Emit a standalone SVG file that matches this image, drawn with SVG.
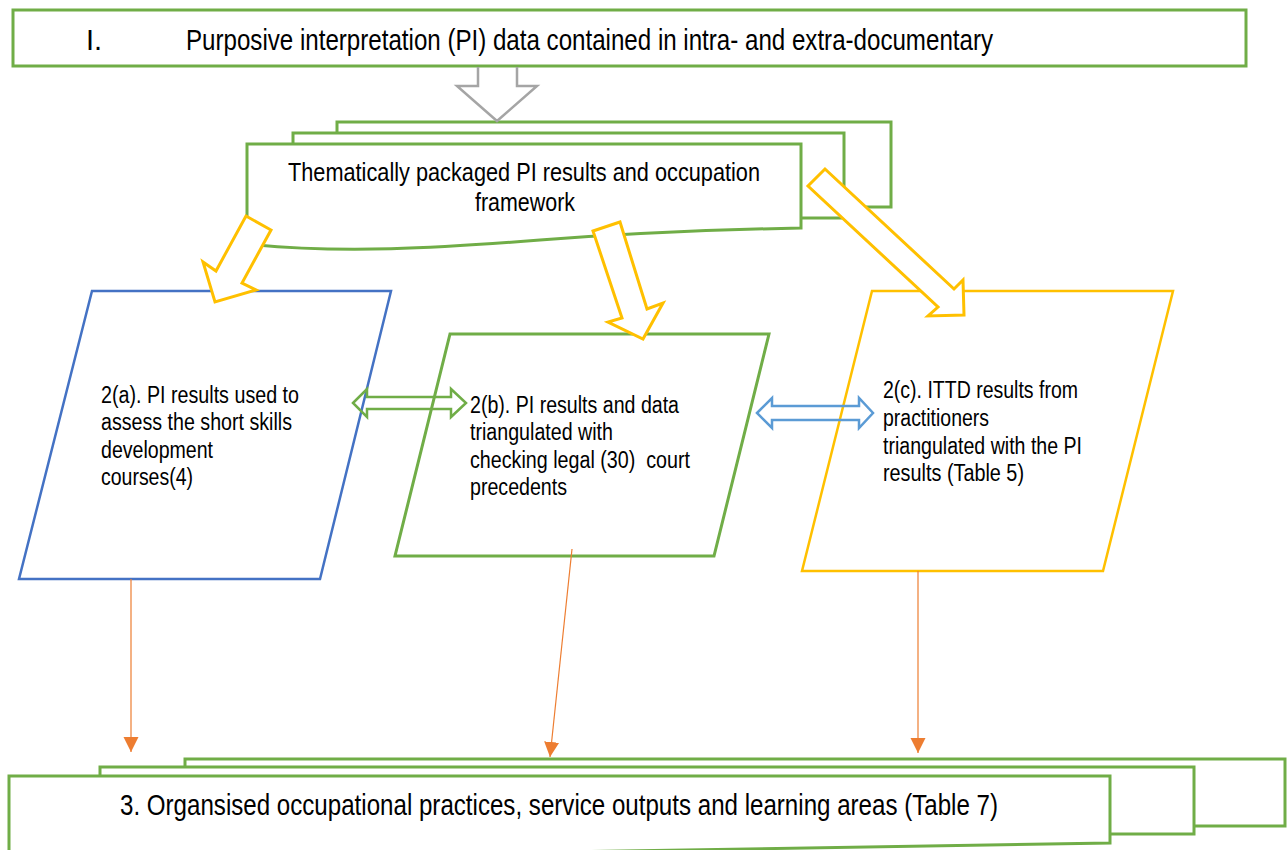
<svg xmlns="http://www.w3.org/2000/svg" width="1287" height="850" viewBox="0 0 1287 850">
<defs>
<style>
.bg{fill:#fff}
.g{fill:#fff;stroke:#70AD47;stroke-width:3}
.b{fill:#fff;stroke:#4472C4;stroke-width:2.5}
.y{fill:#fff;stroke:#FFC000;stroke-width:2.5}
.ya{fill:#fff;stroke:#FFC000;stroke-width:3;stroke-linejoin:miter}
.gray{fill:none;stroke:#A5A5A5;stroke-width:2.5}
.ga{fill:none;stroke:#70AD47;stroke-width:2.5}
.ba{fill:none;stroke:#5B9BD5;stroke-width:2.5}
.o{fill:none;stroke:#ED7D31;stroke-width:1.2}
.t{font-family:"Liberation Sans Narrow","Liberation Sans",Arial,sans-serif;fill:#000}
</style>
<marker id="oh" markerUnits="userSpaceOnUse" markerWidth="16" markerHeight="16" viewBox="0 0 16 16" refX="15" refY="7.5" orient="auto">
<path d="M0,0 L15,7.5 L0,15 Z" fill="#ED7D31"/>
</marker>
</defs>
<rect class="bg" x="0" y="0" width="1287" height="850"/>

<g id="node-1">
<rect class="g" x="13" y="10" width="1233" height="56"/>
<text class="t" x="86" y="50" font-size="29">I.</text>
<text class="t" x="186" y="50" font-size="29" textLength="807" lengthAdjust="spacingAndGlyphs">Purposive interpretation (PI) data contained in intra- and extra-documentary</text>
</g>

<g id="node-thematic">
<rect class="g" x="337" y="122" width="554" height="85"/>
<rect class="g" x="293" y="133" width="551" height="85"/>
<path class="g" d="M247,144 H801 V228 C700,230 620,234 540,240 C440,248 340,254 247,244 Z"/>
<text class="t" x="524" y="181" font-size="26" text-anchor="middle" textLength="472" lengthAdjust="spacingAndGlyphs">Thematically packaged PI results and occupation</text>
<text class="t" x="525" y="211" font-size="26" text-anchor="middle" textLength="100" lengthAdjust="spacingAndGlyphs">framework</text>
</g>

<g id="node-2a">
<polygon class="b" points="92,291 391,291 320,579 19,579"/>
<text class="t" x="101" y="403" font-size="23" textLength="198" lengthAdjust="spacingAndGlyphs">2(a). PI results used to</text>
<text class="t" x="101" y="430" font-size="23" textLength="191" lengthAdjust="spacingAndGlyphs">assess the short skills</text>
<text class="t" x="101" y="458" font-size="23" textLength="112" lengthAdjust="spacingAndGlyphs">development</text>
<text class="t" x="101" y="485" font-size="23" textLength="92" lengthAdjust="spacingAndGlyphs">courses(4)</text>
</g>

<g id="node-2b">
<polygon class="g" points="450,334 769,334 714,556 395,556"/>
<text class="t" x="470" y="413" font-size="23" textLength="209" lengthAdjust="spacingAndGlyphs">2(b). PI results and data</text>
<text class="t" x="470" y="440" font-size="23" textLength="143" lengthAdjust="spacingAndGlyphs">triangulated with</text>
<text class="t" x="470" y="468" font-size="23" textLength="220" lengthAdjust="spacingAndGlyphs" xml:space="preserve">checking legal (30)  court</text>
<text class="t" x="470" y="495" font-size="23" textLength="97" lengthAdjust="spacingAndGlyphs">precedents</text>
</g>

<g id="node-2c">
<polygon class="y" points="872,291 1173,291 1103,571 802,571"/>
<text class="t" x="883" y="398" font-size="23" textLength="195" lengthAdjust="spacingAndGlyphs">2(c). ITTD results from</text>
<text class="t" x="883" y="426" font-size="23" textLength="106" lengthAdjust="spacingAndGlyphs">practitioners</text>
<text class="t" x="883" y="454" font-size="23" textLength="199" lengthAdjust="spacingAndGlyphs">triangulated with the PI</text>
<text class="t" x="883" y="481" font-size="23" textLength="141" lengthAdjust="spacingAndGlyphs">results (Table 5)</text>
</g>

<g id="node-3">
<rect class="g" x="185" y="759" width="1100" height="67"/>
<rect class="g" x="100" y="767" width="1094" height="67"/>
<path class="g" d="M9,876 V776 H1110 V843 C900,846 700,850 500,853 C300,856 150,862 9,876 Z"/>
<text class="t" x="120" y="815" font-size="29" textLength="878" lengthAdjust="spacingAndGlyphs">3. Organsised occupational practices, service outputs and learning areas (Table 7)</text>
</g>

<g id="connectors">
<path class="gray" d="M478,67 V86 H457 L497,121 L537,86 H517 V67"/>
<polygon class="ya" points="246,216 271,230 242,283 256,290 215,302 203,262 216,271"/>
<polygon class="ya" points="593,231 620,222 647,309 663,303 643,339 608,322 622,318"/>
<polygon class="ya" points="825,169 954,289 963,280 964,315 928,316 938,307 808,186"/>
<polygon class="ga" points="353,403 367,389 367,397 451,397 451,389 466,403 451,417 451,409 367,409 367,417"/>
<polygon class="ba" points="757,413 772,398 772,406 859,406 859,398 873,413 859,428 859,420 772,420 772,428"/>
<path class="o" d="M131,579 V752" marker-end="url(#oh)"/>
<path class="o" d="M572,549 L550,757" marker-end="url(#oh)"/>
<path class="o" d="M918,571 V753" marker-end="url(#oh)"/>
</g>
</svg>
